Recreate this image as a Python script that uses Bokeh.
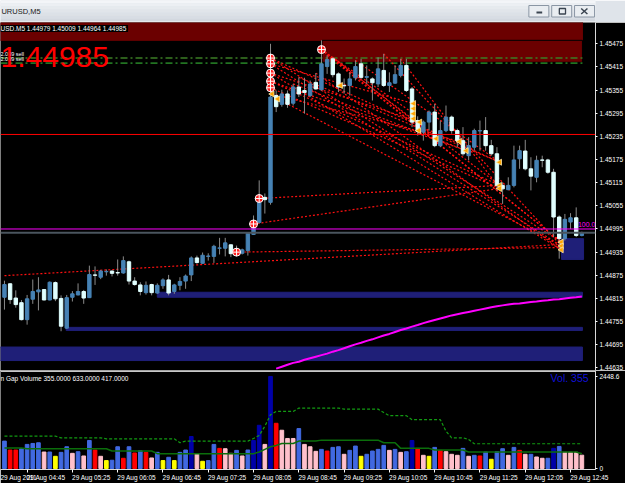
import numpy as np
from bokeh.plotting import figure
from bokeh.layouts import column
from bokeh.models import FixedTicker, PrintfTickFormatter, Label, Span, Range1d
from bokeh.embed import file_html
from bokeh.resources import INLINE

FONT = "Liberation Sans"

# ---------------- texts ----------------
window_title = "URUSD,M5"
info_text = "USD.M5  1.44979 1.45009 1.44964 1.44985"
big_price_text = "1.44985"
side_texts = ["2.069 sell", "2.069 sell"]
vol_title = "n Gap Volume 355.0000 633.0000 417.0000"
vol_badge = "Vol.  355"
level_text = "100.0"

# ---------------- candles (EURUSD M5, 29 Aug 2011, bar 0 = 04:25) ----------------
opens = [1.44818, 1.44853, 1.44816, 1.44804, 1.44760, 1.44813, 1.44832, 1.44838, 1.44811, 1.44856,
         1.44815, 1.44738, 1.44818, 1.44824, 1.44833, 1.44817, 1.44876, 1.44870, 1.44884, 1.44886,
         1.44882, 1.44881, 1.44910, 1.44860, 1.44850, 1.44830, 1.44851, 1.44829, 1.44848, 1.44863,
         1.44833, 1.44849, 1.44860, 1.44876, 1.44920, 1.44906, 1.44924, 1.44924, 1.44945, 1.44945,
         1.44954, 1.44934, 1.44932, 1.44939, 1.44981, 1.45012, 1.45077, 1.45064, 1.45341, 1.45318,
         1.45345, 1.45321, 1.45363, 1.45354, 1.45341, 1.45375, 1.45356, 1.45416, 1.45436, 1.45397,
         1.45367, 1.45367, 1.45387, 1.45423, 1.45388, 1.45384, 1.45371, 1.45406, 1.45367, 1.45373,
         1.45393, 1.45419, 1.45358, 1.45276, 1.45246, 1.45272, 1.45298, 1.45211, 1.45250, 1.45285,
         1.45250, 1.45224, 1.45185, 1.45207, 1.45249, 1.45250, 1.45211, 1.45190, 1.45108, 1.45097,
         1.45108, 1.45177, 1.45197, 1.45151, 1.45129, 1.45174, 1.45174, 1.45142, 1.45026, 1.44970,
         1.45013, 1.45024, 1.44978]
highs = [1.44861, 1.44854, 1.44836, 1.44811, 1.44824, 1.44864, 1.44870, 1.44838, 1.44859, 1.44859,
         1.44823, 1.44824, 1.44834, 1.44854, 1.44837, 1.44900, 1.44898, 1.44889, 1.44890, 1.44887,
         1.44916, 1.44924, 1.44913, 1.44870, 1.44857, 1.44859, 1.44853, 1.44854, 1.44867, 1.44876,
         1.44853, 1.44870, 1.44877, 1.44924, 1.44926, 1.44934, 1.44932, 1.44954, 1.44972, 1.44972,
         1.44955, 1.44952, 1.44944, 1.44987, 1.45030, 1.45121, 1.45087, 1.45475, 1.45354, 1.45356,
         1.45354, 1.45371, 1.45388, 1.45387, 1.45380, 1.45399, 1.45484, 1.45445, 1.45440, 1.45401,
         1.45385, 1.45401, 1.45432, 1.45436, 1.45419, 1.45388, 1.45440, 1.45449, 1.45401, 1.45419,
         1.45436, 1.45436, 1.45363, 1.45287, 1.45276, 1.45302, 1.45319, 1.45276, 1.45315, 1.45289,
         1.45255, 1.45259, 1.45233, 1.45255, 1.45276, 1.45285, 1.45226, 1.45207, 1.45116, 1.45129,
         1.45211, 1.45211, 1.45226, 1.45181, 1.45185, 1.45185, 1.45177, 1.45151, 1.45030, 1.45034,
         1.45036, 1.45051, 1.44988]
lows = [1.44786, 1.44801, 1.44791, 1.44758, 1.44747, 1.44801, 1.44784, 1.44810, 1.44810, 1.44808,
        1.44730, 1.44736, 1.44807, 1.44823, 1.44801, 1.44816, 1.44850, 1.44865, 1.44874, 1.44872,
        1.44874, 1.44879, 1.44851, 1.44848, 1.44823, 1.44825, 1.44823, 1.44827, 1.44840, 1.44823,
        1.44827, 1.44836, 1.44840, 1.44860, 1.44905, 1.44905, 1.44913, 1.44907, 1.44929, 1.44924,
        1.44922, 1.44926, 1.44929, 1.44926, 1.44980, 1.45009, 1.45035, 1.45058, 1.45298, 1.45312,
        1.45309, 1.45315, 1.45337, 1.45294, 1.45337, 1.45356, 1.45354, 1.45397, 1.45388, 1.45350,
        1.45346, 1.45341, 1.45380, 1.45384, 1.45371, 1.45328, 1.45363, 1.45363, 1.45350, 1.45371,
        1.45388, 1.45350, 1.45259, 1.45237, 1.45224, 1.45250, 1.45207, 1.45207, 1.45246, 1.45242,
        1.45207, 1.45185, 1.45173, 1.45198, 1.45198, 1.45198, 1.45185, 1.45095, 1.45060, 1.45095,
        1.45103, 1.45151, 1.45147, 1.45095, 1.45116, 1.45155, 1.45138, 1.44974, 1.44918, 1.44965,
        1.44995, 1.44974, 1.44976]
closes = [1.44851, 1.44812, 1.44799, 1.44760, 1.44814, 1.44833, 1.44837, 1.44811, 1.44857, 1.44814,
          1.44743, 1.44817, 1.44827, 1.44833, 1.44816, 1.44877, 1.44875, 1.44886, 1.44885, 1.44880,
          1.44881, 1.44913, 1.44860, 1.44851, 1.44833, 1.44849, 1.44830, 1.44849, 1.44863, 1.44829,
          1.44850, 1.44859, 1.44873, 1.44920, 1.44908, 1.44927, 1.44925, 1.44950, 1.44946, 1.44959,
          1.44931, 1.44939, 1.44941, 1.44984, 1.45010, 1.45074, 1.45071, 1.45337, 1.45312, 1.45345,
          1.45318, 1.45363, 1.45345, 1.45349, 1.45371, 1.45358, 1.45423, 1.45434, 1.45395, 1.45363,
          1.45366, 1.45384, 1.45416, 1.45388, 1.45390, 1.45374, 1.45410, 1.45367, 1.45374, 1.45395,
          1.45419, 1.45354, 1.45272, 1.45248, 1.45272, 1.45298, 1.45211, 1.45250, 1.45285, 1.45250,
          1.45224, 1.45190, 1.45211, 1.45250, 1.45250, 1.45211, 1.45190, 1.45108, 1.45099, 1.45108,
          1.45174, 1.45198, 1.45151, 1.45132, 1.45173, 1.45173, 1.45142, 1.45026, 1.44970, 1.45020,
          1.45024, 1.44978, 1.44985]

# ---------------- volume sub-window ----------------
volumes = [729, 492, 492, 527, 641, 667, 685, 439, 439, 325,
           430, 579, 404, 448, 334, 746, 492, 325, 211, 220,
           579, 272, 579, 413, 474, 430, 281, 430, 211, 299,
           211, 430, 492, 852, 395, 193, 211, 641, 536, 527,
           404, 483, 334, 492, 746, 1150, 641, 2448, 1203, 1018,
           799, 799, 1062, 641, 579, 457, 509, 465, 562, 579,
           378, 483, 597, 325, 378, 465, 509, 615, 483, 509,
           430, 448, 746, 536, 351, 325, 562, 483, 448, 378,
           351, 536, 325, 351, 334, 439, 246, 448, 527, 351,
           562, 483, 378, 378, 307, 272, 272, 536, 588, 430,
           430, 430, 355]
vol_kind = ["B", "R", "R", "B", "B", "B", "B", "P", "B", "Y",
            "B", "B", "P", "B", "P", "B", "R", "P", "Y", "B",
            "B", "R", "B", "R", "B", "R", "P", "B", "Y", "B",
            "Y", "B", "B", "D", "P", "Y", "B", "B", "R", "P",
            "P", "B", "P", "B", "D", "D", "P", "D", "R", "P",
            "P", "P", "B", "P", "P", "P", "B", "R", "B", "B",
            "P", "B", "B", "Y", "B", "B", "B", "B", "P", "B",
            "P", "B", "D", "R", "P", "Y", "B", "R", "P", "P",
            "P", "B", "P", "B", "R", "B", "Y", "B", "B", "P",
            "B", "R", "P", "B", "P", "P", "B", "D", "B", "P",
            "P", "P", "P"]
vol_ma = [544, 544, 544, 544, 527, 527, 527, 527, 527, 527,
          527, 527, 527, 527, 527, 527, 527, 527, 527, 465,
          465, 465, 465, 465, 465, 465, 465, 395, 395, 395,
          395, 395, 395, 395, 395, 395, 395, 395, 395, 395,
          395, 395, 395, 395, 395, 439, 509, 579, 615, 667,
          667, 667, 729, 729, 729, 729, 755, 755, 755, 755,
          755, 755, 755, 755, 755, 755, 755, 685, 685, 685,
          536, 536, 536, 536, 536, 536, 492, 492, 492, 492,
          492, 492, 439, 439, 439, 439, 439, 439, 439, 439,
          439, 439, 439, 439, 439, 439, 439, 439, 439, 439,
          439, 439, 395]
vol_upper = [860, 860, 860, 860, 860, 860, 860, 860, 860, 860,
             817, 817, 817, 817, 817, 817, 817, 817, 790, 790,
             790, 790, 790, 790, 790, 790, 790, 790, 790, 790,
             790, 685, 729, 729, 729, 729, 729, 729, 729, 729,
             729, 729, 729, 729, 799, 878, 1124, 1431, 1519, 1519,
             1519, 1519, 1607, 1607, 1607, 1607, 1607, 1607, 1607, 1607,
             1580, 1580, 1580, 1580, 1580, 1580, 1580, 1490, 1405, 1405,
             1405, 1405, 1300, 1300, 1300, 1300, 1300, 1300, 992, 817,
             817, 817, 773, 659, 659, 659, 659, 659, 659, 659,
             659, 659, 659, 659, 659, 659, 659, 659, 659, 659,
             659, 659, 659]
vol_max_label = 2448.6

# ---------------- magenta moving average (from bar 48) ----------------
ma_first_bar = 48
ma_values = [1.44633, 1.44638, 1.44643, 1.44648, 1.44651, 1.44656, 1.44660, 1.44664, 1.44668, 1.44672,
             1.44677, 1.44681, 1.44686, 1.44691, 1.44696, 1.44700, 1.44705, 1.44709, 1.44714, 1.44719,
             1.44723, 1.44728, 1.44733, 1.44737, 1.44742, 1.44746, 1.44751, 1.44755, 1.44759, 1.44763,
             1.44767, 1.44771, 1.44774, 1.44777, 1.44780, 1.44783, 1.44786, 1.44789, 1.44792, 1.44795,
             1.44797, 1.44799, 1.44801, 1.44802, 1.44804, 1.44806, 1.44807, 1.44809, 1.44810, 1.44812,
             1.44813, 1.44815, 1.44817, 1.44818, 1.44820]

# ---------------- supply / demand zones ----------------
zone_left = [-5.0, 56.1, -5.0, 10.9, 27.0, 98.4]
zone_right = [102.1, 102.1, 102.1, 102.1, 102.1, 102.3]
zone_low = [1.45484, 1.45427, 1.44654, 1.44732, 1.44818, 1.44916]
zone_high = [1.45600, 1.45484, 1.44689, 1.44740, 1.44831, 1.44970]
zone_kind = ["supply", "supply", "demand", "demand", "demand", "demand"]

# ---------------- horizontal levels ----------------
red_level = 1.45240
magenta_level = 1.44995
bid_price = 1.44985
green_levels = [1.45438, 1.45425]
green_level_end = 102.1

# ---------------- dotted trend lines (bar, price) -> (bar, price) ----------------
tl_x0 = [47, 47, 47, 47, 47, 47, 47, 47, 56, 56, 56, 47, 47.3, 48.3, 0, 41, 44, 45,
         51, 52, 55, 57, 62, 67, 70, 58]
tl_p0 = [1.45438, 1.45423, 1.45399, 1.45378, 1.45361, 1.45438, 1.45423, 1.45399, 1.45460, 1.45460,
         1.45460, 1.45378, 1.45345, 1.45332, 1.44874, 1.44935, 1.45008, 1.45074,
         1.45371, 1.45388, 1.45399, 1.45445, 1.45432, 1.45449, 1.45436, 1.45440]
tl_x1 = [98.4, 98.4, 98.4, 87.5, 87.5, 87.5, 72.3, 73.4, 72.3, 87.5, 98.4, 81.6, 80.4, 98.4, 98.4, 98.4, 87.5, 87.5,
         81.6, 87.5, 98.4, 98.4, 87.5, 98.4, 87.5, 76.3]
tl_p1 = [1.44961, 1.44951, 1.44941, 1.45108, 1.45100, 1.45168, 1.45320, 1.45272, 1.45294, 1.45108,
         1.44961, 1.45198, 1.45222, 1.44951, 1.44955, 1.44947, 1.45100, 1.45108,
         1.45198, 1.45168, 1.44941, 1.44961, 1.45168, 1.44951, 1.45100, 1.45229]

# ---------------- markers ----------------
fractal_x = [47, 47, 47, 47, 47, 56, 45, 44, 41]
fractal_p = [1.45438, 1.45423, 1.45399, 1.45378, 1.45361, 1.45460, 1.45074, 1.45008, 1.44935]
arrow_x = [47.3, 48.3, 59.4, 72.3, 72.3, 72.3, 72.3, 73.4, 73.2, 76.3, 80.4, 81.6, 87.5, 87.5, 87.5, 98.4, 98.4, 98.4]
arrow_p = [1.45345, 1.45332, 1.45367, 1.45320, 1.45307, 1.45294, 1.45281, 1.45272, 1.45250, 1.45229,
           1.45222, 1.45198, 1.45168, 1.45108, 1.45100, 1.44961, 1.44951, 1.44941]

# ---------------- axes ----------------
price_ticks = [1.44635, 1.44695, 1.44755, 1.44815, 1.44875, 1.44935, 1.44995, 1.45055,
               1.45115, 1.45175, 1.45235, 1.45295, 1.45355, 1.45415, 1.45475]
time_tick_bars = [-4, 4, 12, 20, 28, 36, 44, 52, 60, 68, 76, 84, 92, 100]
time_labels = ["29 Aug 2011", "29 Aug 04:45", "29 Aug 05:25", "29 Aug 06:05", "29 Aug 06:45",
               "29 Aug 07:25", "29 Aug 08:05", "29 Aug 08:45", "29 Aug 09:25", "29 Aug 10:05",
               "29 Aug 10:45", "29 Aug 11:25", "29 Aug 12:05", "29 Aug 12:45"]

# ---------------- styles ----------------
BULL = "#4682B4"
BEAR = "#E0FFFF"
WICK = "#8a8a8a"
VOL_COL = {"B": "#4169E1", "R": "#FF0000", "P": "#FFC0CB", "Y": "#FFFF00", "D": "#0000A8"}
ZONE_COL = {"supply": "#6B0000", "demand": "#1F1F78"}

bars = np.arange(len(opens))
o = np.array(opens); c = np.array(closes)
candle_col = [BULL if cc > oo else BEAR for oo, cc in zip(opens, closes)]

X0, X1 = -0.7, 104.41
xr = Range1d(X0, X1)
VMIN, VMAX = -26, 2607

# ================= title bar =================
tf = figure(width=625, height=22, x_range=Range1d(0, 625), y_range=Range1d(22, 0),
            output_backend="svg", toolbar_location=None, x_axis_location=None, y_axis_location=None,
            min_border=0, min_border_left=0, min_border_right=0, min_border_top=0, min_border_bottom=0,
            outline_line_color=None, background_fill_color="#dfe4ea", border_fill_color="#dfe4ea")
band_top = [0, 3, 6, 9, 12, 15, 18, 21]
band_bot = [3, 6, 9, 12, 15, 18, 21, 22]
band_col = ["#f3f5f8", "#eceff3", "#e6eaee", "#e1e5ea", "#dce1e7", "#d8dde4", "#d3d8df", "#f4f4f4"]
tf.quad(left=0, right=625, top=band_top, bottom=band_bot, fill_color=band_col, line_color=None)
tf.text(x=[1], y=[10.5], text=[window_title], text_font_size="7.5px", text_color="#202020",
        text_baseline="middle", text_font={"value": FONT})
btn_l = [555, 579, 603]
tf.quad(left=btn_l, right=[b + 21 for b in btn_l], top=[5, 5, 5], bottom=[16.5, 16.5, 16.5],
        fill_color="#e9edf1", line_color="#8a96a4", line_width=1)
tf.segment(x0=[563], y0=[12], x1=[569], y1=[12], line_color="#3a4450", line_width=2)
tf.quad(left=[587], right=[593.5], top=[8], bottom=[13.5], fill_color=None, line_color="#3a4450", line_width=1.3)
tf.segment(x0=[610, 610], y0=[8, 13.5], x1=[616.5, 616.5], y1=[13.5, 8], line_color="#3a4450", line_width=1.5)

# ================= main price chart =================
p = figure(width=625, height=348, x_range=xr, y_range=Range1d(1.446282, 1.455302),
           output_backend="svg", toolbar_location=None, x_axis_location=None, y_axis_location="right",
           min_border_left=0, min_border_right=29, min_border_top=0, min_border_bottom=0,
           background_fill_color="black", border_fill_color="black", outline_line_color=None)
p.grid.visible = False
ya = p.yaxis[0]
ya.ticker = FixedTicker(ticks=price_ticks)
ya.formatter = PrintfTickFormatter(format="%.5f")
ya.major_label_text_font = FONT
ya.major_label_text_font_size = "6.5px"
ya.major_label_text_color = "white"
ya.major_tick_out = 2
ya.major_tick_in = 0
ya.major_tick_line_color = "white"
ya.minor_tick_line_color = None
ya.axis_line_color = "#d8d8d8"
ya.major_label_standoff = 2

# zones
p.quad(left=zone_left, right=zone_right, bottom=zone_low, top=zone_high,
       fill_color=[ZONE_COL[k] for k in zone_kind],
       line_color=["#6B0000", "black", ZONE_COL["demand"], ZONE_COL["demand"], ZONE_COL["demand"], ZONE_COL["demand"]])

# level lines
p.segment(x0=[X0], y0=[green_levels[0]], x1=[green_level_end], y1=[green_levels[0]],
          line_color="#3b7d25", line_width=1.5, line_dash="7 3 2 3")
p.segment(x0=[X0], y0=[green_levels[1]], x1=[green_level_end], y1=[green_levels[1]],
          line_color="#3cc83c", line_width=1, line_dash="7 3 2 3")
p.add_layout(Span(location=red_level, dimension="width", line_color="#FF0000", line_width=1))

# trend lines
p.segment(x0=tl_x0, y0=tl_p0, x1=tl_x1, y1=tl_p1, line_color="#ff1010", line_width=1.2, line_dash="2 2")

# moving average
p.line(x=bars[ma_first_bar:], y=ma_values, line_color="#FF00FF", line_width=2)

# candles
p.segment(x0=bars, y0=highs, x1=bars, y1=lows, line_color=WICK, line_width=1)
p.vbar(x=bars, width=0.6, top=np.maximum(o, c), bottom=np.minimum(o, c),
       fill_color=candle_col, line_color=candle_col, line_width=1)

p.add_layout(Span(location=magenta_level, dimension="width", line_color="#FF00FF", line_width=1))
p.add_layout(Span(location=bid_price, dimension="width", line_color="#4a555e", line_width=2))

# markers
p.scatter(x=arrow_x, y=arrow_p, marker="triangle", angle=np.pi / 2, size=6,
          fill_color="#FFA500", line_color="#FFE8A8", line_width=0.8)
p.scatter(x=fractal_x, y=fractal_p, marker="circle_cross", size=8,
          fill_color="#ff2020", line_color="white", line_width=1)

# texts
p.add_layout(Label(x=X0, y=1.455146, text=info_text, text_font=FONT, text_font_size="6.5px",
                   text_color="white", text_baseline="middle", background_fill_color="black"))
p.add_layout(Label(x=X0, y=1.454498, text=side_texts[0], text_font=FONT, text_font_size="5.5px",
                   text_color="white", text_baseline="middle"))
p.add_layout(Label(x=X0, y=1.454356, text=side_texts[1], text_font=FONT, text_font_size="5.5px",
                   text_color="white", text_baseline="middle"))
p.add_layout(Label(x=X0, y=1.454408, text=big_price_text, text_font=FONT, text_font_size="30px",
                   text_color="#FF0000", text_baseline="middle"))
p.add_layout(Label(x=101.3, y=1.45007, text=level_text, text_font=FONT, text_font_size="7px",
                   text_color="#FF00FF", text_baseline="middle"))
p.add_layout(Label(x=X1, x_offset=2, y=red_level, text="%.5f" % red_level, text_font=FONT,
                   text_font_size="6.5px", text_color="white", text_baseline="middle",
                   background_fill_color="#FF0000"))
p.add_layout(Label(x=X1, x_offset=2, y=bid_price, text="%.5f" % bid_price, text_font=FONT,
                   text_font_size="6.5px", text_color="black", text_baseline="middle",
                   background_fill_color="white"))

# ================= volume window =================
pv = figure(width=625, height=113, x_range=xr, y_range=Range1d(VMIN, VMAX),
            output_backend="svg", toolbar_location=None, y_axis_location="right",
            min_border_left=0, min_border_right=29, min_border_top=0, min_border_bottom=13,
            background_fill_color="black", border_fill_color="black", outline_line_color=None)
pv.grid.visible = False
vcols = [VOL_COL[k] for k in vol_kind]
pv.vbar(x=bars, width=0.65, top=volumes, bottom=0, fill_color=vcols, line_color=vcols)
pv.line(x=bars, y=vol_ma, line_color="#0b6e0b", line_width=1.5)
pv.line(x=bars, y=vol_upper, line_color="#129a12", line_width=1.2, line_dash="3 2")

vy = pv.yaxis[0]
vy.ticker = FixedTicker(ticks=[0, vol_max_label])
vy.major_label_overrides = {0: "0", vol_max_label: "%.1f" % vol_max_label}
vy.major_label_text_font = FONT
vy.major_label_text_font_size = "6.5px"
vy.major_label_text_color = "white"
vy.major_tick_out = 2
vy.major_tick_in = 0
vy.major_tick_line_color = "white"
vy.minor_tick_line_color = None
vy.axis_line_color = "#d8d8d8"
vy.major_label_standoff = 2

vx = pv.xaxis[0]
centers = [b + 3.35 for b in time_tick_bars]
vx.ticker = FixedTicker(ticks=centers, minor_ticks=time_tick_bars)
vx.major_label_overrides = {cv: lab for cv, lab in zip(centers, time_labels)}
vx.major_label_text_font = FONT
vx.major_label_text_font_size = "6.5px"
vx.major_label_text_color = "white"
vx.major_tick_out = 3
vx.major_tick_in = 0
vx.major_tick_line_color = None
vx.minor_tick_out = 3
vx.minor_tick_in = 0
vx.minor_tick_line_color = "white"
vx.axis_line_color = "#d8d8d8"
vx.major_label_standoff = 1

pv.add_layout(Span(location=VMAX, dimension="width", line_color="#c8c8c8", line_width=3))
pv.add_layout(Label(x=X0, y=2396, text=vol_title, text_font=FONT, text_font_size="6.5px",
                    text_color="white", text_baseline="middle"))
pv.add_layout(Label(x=103.7, y=2409, text=vol_badge, text_font=FONT, text_font_size="10.5px",
                    text_color="#1010d8", text_baseline="middle", text_align="right"))

layout = column(tf, p, pv, spacing=0)
open("out.html", "w").write(file_html(layout, INLINE))
